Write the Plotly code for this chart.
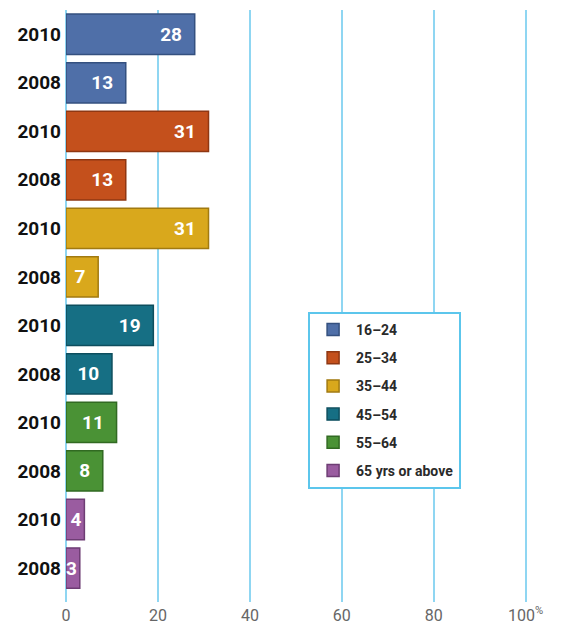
import plotly.graph_objects as go

# Age groups and share (%) for each survey year
groups = ["16–24", "25–34", "35–44", "45–54", "55–64", "65 yrs or above"]
years = ["2010", "2008"]
values_2010 = [28, 31, 31, 19, 11, 4]
values_2008 = [13, 13, 7, 10, 8, 3]
colors = ["#4f6fa8", "#c4501c", "#d9a81c", "#166f84", "#4a9235", "#9a5ca0"]
edge_colors = ["#34507f", "#8f3712", "#a17a10", "#0d4e5e", "#316a22", "#6e3d74"]
x_ticks = [0, 20, 40, 60, 80, 100]
x_labels = ["0", "20", "40", "60", "80", "100<sup>%</sup>"]

fig = go.Figure()

# One trace per age group, each holding its 2010 and 2008 bars
categories = []
for i, g in enumerate(groups):
    cats = [f"{g} {y}" for y in years]
    categories += cats
    vals = [values_2010[i], values_2008[i]]
    # pad the label a bit off the bar end, except on the tiny bars
    labels = [f"{v}\u2002" if v > 5 else str(v) for v in vals]
    fig.add_trace(go.Bar(
        x=vals,
        y=cats,
        orientation="h",
        name=g,
        legendgroup=g,
        marker=dict(color=colors[i], line=dict(color=edge_colors[i], width=1.5)),
        text=labels,
        textposition="inside",
        insidetextanchor="end",
        constraintext="none",
        textfont=dict(family="Roboto, sans-serif", size=19, color="white", weight="bold"),
        cliponaxis=False,
    ))

# page body keeps its default 8px margin, so the figure is sized to fit inside it
fig.update_layout(
    width=546,
    height=620,
    margin=dict(l=58, r=26, t=2, b=26),
    plot_bgcolor="white",
    paper_bgcolor="white",
    barmode="relative",
    bargap=0.17,
    showlegend=True,
    legend=dict(
        x=0.524, y=0.49, xanchor="left", yanchor="top",
        bordercolor="#5cc6ec", borderwidth=2, bgcolor="white",
        font=dict(family="Roboto, sans-serif", size=14, color="#2a2a2a", weight="bold"),
        itemwidth=36, tracegroupgap=7,
    ),
)

fig.update_xaxes(
    range=[0, 100.5],
    tickvals=x_ticks,
    ticktext=x_labels,
    showgrid=True,
    gridcolor="#8fd6f2",
    gridwidth=1.5,
    zeroline=True,
    zerolinecolor="#8fd6f2",
    zerolinewidth=1.5,
    showline=False,
    ticks="",
    ticklabelstandoff=2,
    automargin=False,
    tickfont=dict(family="Roboto, sans-serif", size=16, color="#666666"),
    fixedrange=True,
)

fig.update_yaxes(
    type="category",
    categoryorder="array",
    categoryarray=categories,
    range=[11.7, -0.5],
    tickvals=categories,
    ticktext=[c.split(" ")[-1] for c in categories],
    showgrid=False,
    ticks="",
    ticklabelstandoff=4,
    automargin=False,
    tickfont=dict(family="Roboto, sans-serif", size=19, color="#111111", weight="bold"),
    fixedrange=True,
)

fig.write_html("out.html")
